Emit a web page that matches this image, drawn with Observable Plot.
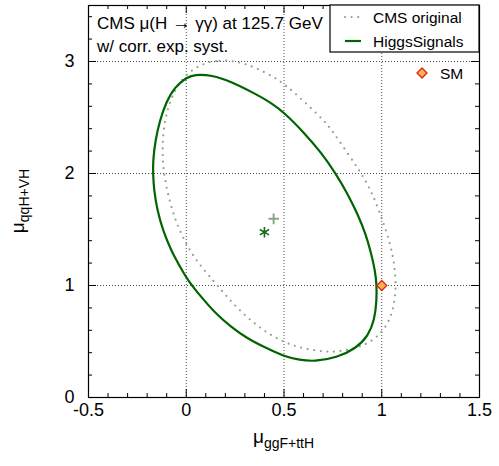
<!DOCTYPE html>
<html><head><meta charset="utf-8">
<script src="https://cdn.jsdelivr.net/npm/d3@7"></script>
<script src="https://cdn.jsdelivr.net/npm/@observablehq/plot@0.6"></script>
<style>body{margin:0;background:#fff} svg{font-family:"Liberation Sans",Arial,sans-serif}</style>
</head><body><div id="chart"></div>
<script>
// HiggsSignals 68% contour
const hsX = [0.04,0.13,0.23,0.35,0.44,0.50,0.60,0.689,0.765,0.825,0.876,0.918,0.947,0.966,0.974,0.974,0.963,0.93,0.87,0.77,0.655,0.58,0.50,0.40,0.315,0.23,0.144,0.077,0.009,-0.026,-0.077,-0.119,-0.148,-0.165,-0.17,-0.17,-0.158,-0.136,-0.102,-0.06,0.0];
const hsY = [2.884,2.88,2.82,2.715,2.625,2.545,2.37,2.19,2.00,1.82,1.64,1.46,1.28,1.13,1.006,0.866,0.69,0.55,0.44,0.355,0.321,0.335,0.366,0.449,0.524,0.628,0.762,0.896,1.045,1.15,1.31,1.49,1.67,1.85,2.00,2.116,2.295,2.47,2.64,2.77,2.855];
// CMS original contour
const cmsX = [0.077,0.17,0.264,0.35,0.45,0.50,0.60,0.706,0.748,0.825,0.893,0.944,0.986,1.029,1.06,1.071,1.071,1.054,1.012,0.944,0.87,0.774,0.706,0.604,0.519,0.434,0.349,0.264,0.196,0.144,0.051,0.0,-0.042,-0.077,-0.102,-0.119,-0.122,-0.116,-0.094,-0.06,-0.009];
const cmsY = [2.98,3.015,3.00,2.95,2.86,2.80,2.65,2.47,2.38,2.18,2.01,1.85,1.67,1.46,1.25,1.074,0.926,0.747,0.598,0.494,0.44,0.408,0.408,0.435,0.479,0.554,0.658,0.792,0.926,1.03,1.22,1.37,1.52,1.70,1.88,2.06,2.235,2.41,2.59,2.74,2.875];
const bestFitHS = [0.40, 1.476];
const bestFitCMS = [0.447, 1.595];
const smPoint = [1, 1];

const xDomain = [-0.5, 1.5];
const yDomain = [0, 3.5];
const xTicks = [-0.5, 0, 0.5, 1, 1.5];
const xTickLabels = ["-0.5", "0", "0.5", "1", "1.5"];
const yTicks = [0, 1, 2, 3];
const yTickLabels = ["0", "1", "2", "3"];
const xGrid = [0, 0.5, 1];
const yGrid = [1, 2, 3];
const xMinor = [-0.4,-0.3,-0.2,-0.1,0.1,0.2,0.3,0.4,0.6,0.7,0.8,0.9,1.1,1.2,1.3,1.4];
const yMinor = [0.2,0.4,0.6,0.8,1.2,1.4,1.6,1.8,2.2,2.4,2.6,2.8,3.2,3.4];
const xMajorInner = [0, 0.5, 1];
const yMajorInner = [1, 2, 3];

const titleParts = ["CMS μ(H ", "→", " γγ) at 125.7 GeV"];
const subtitle = "w/ corr. exp. syst.";
const legendLabels = ["CMS original", "HiggsSignals"];
const smLabel = "SM";

const hs = hsX.map((x, i) => ({x, y: hsY[i]}));
const cms = cmsX.map((x, i) => ({x, y: cmsY[i]}));

const cDark = "#006400", cLight = "#86a886";
const smFill = "#f7b448", smStroke = "#d8241c";
const tickStyle = {stroke: "#000", strokeWidth: 1};
const dotDash = {strokeWidth: 2.2, strokeDasharray: "0,6.6", strokeLinecap: "round"};

const plot = Plot.plot({
  width: 499, height: 466,
  marginLeft: 88, marginRight: 20, marginTop: 5, marginBottom: 69,
  style: {fontFamily: "Liberation Sans, Arial, sans-serif", background: "#fff", overflow: "visible"},
  x: {domain: xDomain},
  y: {domain: yDomain},
  marks: [
    Plot.ruleX(xGrid, {stroke: "#000", strokeOpacity: 0.7, strokeDasharray: "1,2"}),
    Plot.ruleY(yGrid, {stroke: "#000", strokeOpacity: 0.7, strokeDasharray: "1,2"}),
    Plot.line(cms, {x: "x", y: "y", curve: "basis-closed", stroke: cLight, ...dotDash}),
    Plot.line(hs, {x: "x", y: "y", curve: "basis-closed", stroke: cDark, strokeWidth: 2.2}),
    Plot.dot([bestFitCMS], {x: d => d[0], y: d => d[1], symbol: "plus", stroke: cLight, r: 3.5, strokeWidth: 2}),
    Plot.dot([bestFitHS], {x: d => d[0], y: d => d[1], symbol: "asterisk", stroke: "#1a6a1a", r: 5, strokeWidth: 1.6}),
    Plot.dot([smPoint], {x: d => d[0], y: d => d[1], symbol: "diamond2", fill: smFill, stroke: smStroke, strokeWidth: 1.3, r: 4.5}),
    // inward ticks on all four sides
    Plot.ruleX(xMinor, {y1: yDomain[0], y2: yDomain[0], insetTop: -4, ...tickStyle}),
    Plot.ruleX(xMinor, {y1: yDomain[1], y2: yDomain[1], insetBottom: -4, ...tickStyle}),
    Plot.ruleX(xMajorInner, {y1: yDomain[0], y2: yDomain[0], insetTop: -8, ...tickStyle}),
    Plot.ruleX(xMajorInner, {y1: yDomain[1], y2: yDomain[1], insetBottom: -8, ...tickStyle}),
    Plot.ruleY(yMinor, {x1: xDomain[0], x2: xDomain[0], insetRight: -4, ...tickStyle}),
    Plot.ruleY(yMinor, {x1: xDomain[1], x2: xDomain[1], insetLeft: -4, ...tickStyle}),
    Plot.ruleY(yMajorInner, {x1: xDomain[0], x2: xDomain[0], insetRight: -8, ...tickStyle}),
    Plot.ruleY(yMajorInner, {x1: xDomain[1], x2: xDomain[1], insetLeft: -8, ...tickStyle}),
    Plot.frame({stroke: "#000", strokeWidth: 1.2}),
    Plot.axisX(xTicks, {tickSize: 0, tickPadding: 6, fontSize: 18, label: null,
      tickFormat: d => xTickLabels[xTicks.indexOf(d)]}),
    Plot.axisY(yTicks, {tickSize: 0, tickPadding: 14, fontSize: 18, label: null,
      tickFormat: d => yTickLabels[yTicks.indexOf(d)]})
  ]
});
document.getElementById("chart").appendChild(plot);

const svg = d3.select(plot);
const sx = plot.scale("x"), sy = plot.scale("y");
const pLeft = sx.apply(xDomain[0]), pRight = sx.apply(xDomain[1]);
const pTop = sy.apply(yDomain[1]), pBottom = sy.apply(yDomain[0]);

// title text
const tt = svg.append("g").attr("font-size", 17).attr("fill", "#000").attr("text-anchor", "start");
const t1 = tt.append("text").attr("x", pLeft + 9).attr("y", pTop + 24);
t1.append("tspan").text(titleParts[0]);
t1.append("tspan").attr("font-size", 18.5).text(titleParts[1]);
t1.append("tspan").text(titleParts[2]);
tt.append("text").attr("x", pLeft + 9).attr("y", pTop + 47).text(subtitle);

// legend box
const lg = svg.append("g").attr("text-anchor", "start");
lg.append("rect").attr("x", pRight - 149).attr("y", pTop).attr("width", 149).attr("height", 47)
  .attr("fill", "#fff").attr("stroke", "#000").attr("stroke-width", 1.2);
const rowsY = [pTop + 12, pTop + 36];
lg.append("line").attr("x1", pRight - 134).attr("x2", pRight - 118).attr("y1", rowsY[0]).attr("y2", rowsY[0])
  .attr("stroke", cLight).attr("stroke-width", 2.2).attr("stroke-dasharray", "0,6.6").attr("stroke-linecap", "round");
lg.append("line").attr("x1", pRight - 134).attr("x2", pRight - 118).attr("y1", rowsY[1]).attr("y2", rowsY[1])
  .attr("stroke", cDark).attr("stroke-width", 2.2);
legendLabels.forEach((t, i) => lg.append("text").attr("x", pRight - 106).attr("y", rowsY[i] + 5.5)
  .attr("font-size", 15.5).text(t));

// SM key
const smY = pTop + 68;
lg.append("path").attr("d", d3.symbol(d3.symbolDiamond2, Math.PI * 4.5 * 4.5)()).attr("transform", `translate(${pRight - 57},${smY})`)
  .attr("fill", smFill).attr("stroke", smStroke).attr("stroke-width", 1.3);
lg.append("text").attr("x", pRight - 39).attr("y", smY + 5.5).attr("font-size", 15.5).text(smLabel);

// axis labels with subscripts
const xl = svg.append("text").attr("x", (pLeft + pRight) / 2).attr("y", pBottom + 46).attr("text-anchor", "middle").attr("font-size", 19);
xl.append("tspan").text("μ");
xl.append("tspan").attr("font-size", 14).attr("dy", 5).text("ggF+ttH");
const yl = svg.append("text").attr("transform", `translate(24,${(pTop + pBottom) / 2}) rotate(-90)`).attr("text-anchor", "middle").attr("font-size", 19);
yl.append("tspan").text("μ");
yl.append("tspan").attr("font-size", 14).attr("dy", 5).text("qqH+VH");
</script>
</body></html>
